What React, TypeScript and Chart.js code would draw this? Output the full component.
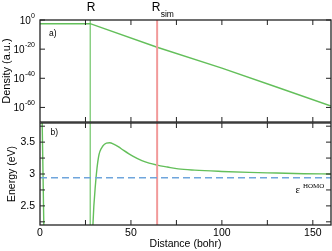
import { useEffect, useRef } from 'react';
import { Chart, registerables } from 'chart.js';

Chart.register(...registerables);

const FONT = '"Liberation Sans", Arial, Helvetica, sans-serif';
const SERIF = '"Liberation Serif", "DejaVu Serif", serif';

const R_BOHR = 27.6;
const RSIM_BOHR = 64.4;
const HOMO_EV = 2.94;

const densityDistance = [0, 10, 20, 27.6, 64.4, 100, 130, 160];
const densityValues = [3e-3, 3e-3, 3e-3, 3e-3, 2e-19, 1e-33, 1e-46, 1e-59];
const densityTickExponents = [0, -20, -40, -60];

const energyDistance = [0.4, 1.2, 2.1, 3, 28, 29.1, 30.6, 32.2, 34.6, 36.5, 38.3, 40.5, 43, 46, 51, 56, 60, 64.4, 70, 76, 85, 100, 115, 130, 145, 160];
const energyValues = [4.5, 3.8, 2.2, 1.0, 1.0, 2.2, 2.87, 3.27, 3.44, 3.485, 3.49, 3.47, 3.43, 3.37, 3.28, 3.21, 3.17, 3.14, 3.11, 3.08, 3.06, 3.04, 3.025, 3.015, 3.005, 3.0];

const xTickValues = [25, 50, 75, 100, 125, 150];
const xLabelValues = [0, 50, 100, 150];
const energyTickValues = [2.25, 2.5, 2.75, 3, 3.25, 3.5, 3.75];
const energyLabelValues = [2.5, 3, 3.5];

const X_MIN = 0;
const X_MAX = 160;
const D_MIN = 1e-70;
const D_MAX = 1;
const E_MIN = 2.2;
const E_MAX = 3.8;

const GREEN = '#63bf5a';
const PINK = '#f29a9a';
const BLUE = '#6fa5dc';
const FRAME = '#222';

function frameTicks(chart: any, yTicks: number[]) {
  const { ctx, chartArea, scales } = chart;
  const { left, right, top, bottom } = chartArea;
  ctx.save();
  ctx.strokeStyle = FRAME;
  ctx.lineWidth = 1;
  const tl = 5;
  ctx.beginPath();
  for (const v of xTickValues) {
    const px = scales.x.getPixelForValue(v);
    ctx.moveTo(px, top);
    ctx.lineTo(px, top + tl);
    ctx.moveTo(px, bottom);
    ctx.lineTo(px, bottom - tl);
  }
  for (const v of yTicks) {
    const py = scales.y.getPixelForValue(v);
    ctx.moveTo(left, py);
    ctx.lineTo(left + tl, py);
    ctx.moveTo(right, py);
    ctx.lineTo(right - tl, py);
  }
  ctx.stroke();
  ctx.lineWidth = 1.3;
  ctx.strokeRect(left, top, right - left, bottom - top);
  ctx.restore();
}

const topPlugin = {
  id: 'topDecor',
  afterDraw(chart: any) {
    frameTicks(chart, densityTickExponents.map((e) => Math.pow(10, e)));
    const { ctx, scales, chartArea } = chart;
    ctx.save();
    ctx.fillStyle = '#000';
    // log tick labels 10^n
    for (const e of densityTickExponents) {
      const py = scales.y.getPixelForValue(Math.pow(10, e));
      const sup = String(e);
      ctx.font = `7px ${FONT}`;
      const supW = ctx.measureText(sup).width;
      ctx.textAlign = 'right';
      ctx.textBaseline = 'middle';
      ctx.fillText(sup, 35, py - 4);
      ctx.font = `10px ${FONT}`;
      ctx.fillText('10', 35 - supW - 0.3, py + 1);
    }
    // a)
    ctx.font = `8.5px ${FONT}`;
    ctx.textAlign = 'left';
    ctx.textBaseline = 'middle';
    ctx.fillText('a)', chartArea.left + 9, chartArea.top + 14);
    // R labels
    const rx = scales.x.getPixelForValue(R_BOHR);
    ctx.font = `12px ${FONT}`;
    ctx.textAlign = 'center';
    ctx.fillText('R', rx + 1, 8);
    const sx = scales.x.getPixelForValue(RSIM_BOHR);
    ctx.fillText('R', sx - 1, 8);
    ctx.font = `8.5px ${FONT}`;
    ctx.textAlign = 'left';
    ctx.fillText('sim', sx + 3.5, 14.5);
    ctx.restore();
  },
};

const bottomPlugin = {
  id: 'bottomDecor',
  afterDraw(chart: any) {
    frameTicks(chart, energyTickValues);
    const { ctx, scales, chartArea } = chart;
    ctx.save();
    ctx.fillStyle = '#000';
    ctx.font = `8.5px ${FONT}`;
    ctx.textAlign = 'left';
    ctx.textBaseline = 'middle';
    ctx.fillText('b)', chartArea.left + 10.5, chartArea.top + 10);
    const ex = scales.x.getPixelForValue(141);
    const ey = scales.y.getPixelForValue(2.75);
    ctx.font = `11px ${SERIF}`;
    ctx.fillText('\u03b5', ex - 1, ey);
    ctx.font = `7px ${SERIF}`;
    ctx.fillText('HOMO', ex + 6.5, ey - 4);
    ctx.restore();
  },
};

const xy = (xs: number[], ys: number[]) => xs.map((x, i) => ({ x, y: ys[i] }));

export default function App() {
  const topRef = useRef<HTMLCanvasElement>(null);
  const botRef = useRef<HTMLCanvasElement>(null);

  useEffect(() => {
    const common = {
      responsive: false,
      animation: false as const,
      events: [] as any[],
    };
    const top = new Chart(topRef.current!, {
      type: 'line',
      data: {
        datasets: [
          {
            data: xy([R_BOHR, R_BOHR], [D_MIN, D_MAX]),
            borderColor: GREEN,
            borderWidth: 1.1,
            pointRadius: 0,
          },
          {
            data: xy([RSIM_BOHR, RSIM_BOHR], [D_MIN, D_MAX]),
            borderColor: PINK,
            borderWidth: 2,
            pointRadius: 0,
          },
          {
            data: xy(densityDistance, densityValues),
            borderColor: GREEN,
            borderWidth: 1.4,
            pointRadius: 0,
          },
        ],
      },
      options: {
        ...common,
        layout: { padding: { left: 0, right: 1, top: 20, bottom: 129 } },
        plugins: { legend: { display: false }, tooltip: { enabled: false } },
        scales: {
          x: { type: 'linear', min: X_MIN, max: X_MAX, display: false },
          y: {
            type: 'logarithmic',
            min: D_MIN,
            max: D_MAX,
            position: 'left',
            afterFit: (s: any) => {
              s.width = 40;
            },
            ticks: { display: false },
            grid: { display: false, drawTicks: false },
            border: { display: false },
            title: {
              display: true,
              text: 'Density (a.u.)',
              color: '#000',
              font: { family: FONT, size: 11 },
              padding: { top: 0.5, bottom: 0 },
            },
          },
        },
      } as any,
      plugins: [topPlugin],
    });

    const bot = new Chart(botRef.current!, {
      type: 'line',
      data: {
        datasets: [
          {
            data: xy([X_MIN, X_MAX], [HOMO_EV, HOMO_EV]),
            borderColor: BLUE,
            borderWidth: 1.5,
            borderDash: [7, 4],
            pointRadius: 0,
          },
          {
            data: xy([R_BOHR, R_BOHR], [E_MIN, E_MAX]),
            borderColor: GREEN,
            borderWidth: 1.1,
            pointRadius: 0,
          },
          {
            data: xy([RSIM_BOHR, RSIM_BOHR], [E_MIN, E_MAX]),
            borderColor: PINK,
            borderWidth: 2,
            pointRadius: 0,
          },
          {
            data: xy(energyDistance, energyValues),
            borderColor: GREEN,
            borderWidth: 1.4,
            pointRadius: 0,
            cubicInterpolationMode: 'monotone',
          },
        ],
      },
      options: {
        ...common,
        layout: { padding: { left: 0, right: 1, top: 123, bottom: 0 } },
        plugins: { legend: { display: false }, tooltip: { enabled: false } },
        scales: {
          x: {
            type: 'linear',
            min: X_MIN,
            max: X_MAX,
            afterFit: (s: any) => {
              s.height = 26;
            },
            afterBuildTicks: (s: any) => {
              s.ticks = [0, ...xTickValues].map((v) => ({ value: v }));
            },
            ticks: {
              autoSkip: false,
              maxRotation: 0,
              padding: 2,
              color: '#000',
              font: { family: FONT, size: 10.5 },
              callback: (v: any) => (xLabelValues.includes(Number(v)) ? String(v) : ''),
            },
            grid: { display: false, drawTicks: false },
            border: { display: false },
            title: {
              display: true,
              text: 'Distance (bohr)',
              color: '#000',
              font: { family: FONT, size: 10.5 },
              padding: { top: 0, bottom: 1 },
            },
          },
          y: {
            type: 'linear',
            min: E_MIN,
            max: E_MAX,
            afterFit: (s: any) => {
              s.width = 40;
            },
            afterBuildTicks: (s: any) => {
              s.ticks = energyTickValues.map((v) => ({ value: v }));
            },
            ticks: {
              autoSkip: false,
              padding: 5,
              color: '#000',
              font: { family: FONT, size: 10.5 },
              callback: (v: any) => (energyLabelValues.some((l) => Math.abs(l - Number(v)) < 1e-9) ? String(v) : ''),
            },
            grid: { display: false, drawTicks: false },
            border: { display: false },
            title: {
              display: true,
              text: 'Energy (eV)',
              color: '#000',
              font: { family: FONT, size: 10.5 },
              padding: { top: 6, bottom: 0 },
            },
          },
        },
      } as any,
      plugins: [bottomPlugin],
    });

    return () => {
      top.destroy();
      bot.destroy();
    };
  }, []);

  const cs: any = { position: 'absolute', left: 0, top: 0 };
  return (
    <div style={{ position: 'fixed', left: 0, top: 0, width: 332, height: 251, background: '#fff' }}>
      <canvas ref={topRef} width={332} height={251} style={cs} />
      <canvas ref={botRef} width={332} height={251} style={cs} />
    </div>
  );
}
